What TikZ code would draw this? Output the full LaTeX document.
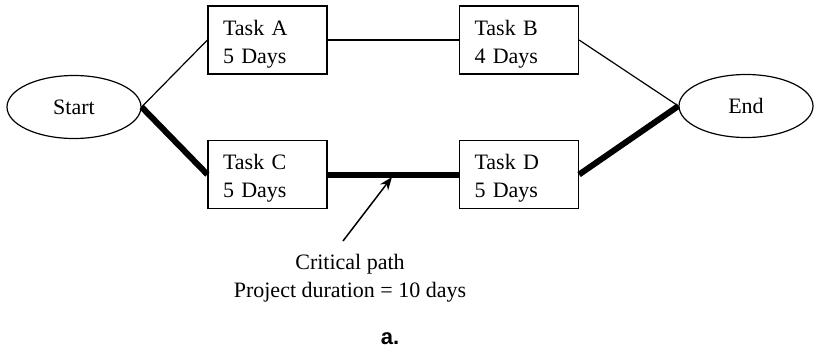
\documentclass[tikz,border=0pt]{standalone}
\usepackage{fontspec}
\setmainfont{Liberation Serif}
\newfontfamily\capfont{Liberation Sans}
\usetikzlibrary{shapes.geometric,arrows.meta}
\newcommand{\topstrut}{\rule{0pt}{23pt}}
\begin{document}
\begin{tikzpicture}[x=1pt,y=-1pt,
  every node/.style={font=\fontsize{22}{28}\selectfont},
  taskbox/.style={draw,line width=1.2pt,minimum width=119pt,minimum height=68pt,
    text width=89pt,align=left,inner sep=0pt},
  endpoint/.style={draw,ellipse,line width=1.2pt,minimum width=134pt,minimum height=63pt,inner sep=0pt},
  thin link/.style={line width=1.2pt},
  crit link/.style={line width=6pt},
]
\useasboundingbox (0,0) rectangle (818,351);
\node[endpoint] (start) at (74,107) {Start};
\node[endpoint] (end) at (746,106) {End};
\node[taskbox] (A) at (267.5,40) {\topstrut Task A\\5 Days};
\node[taskbox] (B) at (519,40) {\topstrut Task B\\4 Days};
\node[taskbox] (C) at (267.5,174.5) {\topstrut Task C\\5 Days};
\node[taskbox] (D) at (519,174.5) {\topstrut Task D\\5 Days};
\draw[thin link] (start.east) -- (A.west);
\draw[thin link] (A.east) -- (B.west);
\draw[thin link] (B.east) -- (end.west);
\draw[crit link] (start.east) -- (C.west);
\draw[crit link] (C.east) -- (D.west);
\draw[crit link] (D.east) -- (end.west);
\node[align=center,anchor=base] (crit) at (350,297) {Critical path\\Project duration = 10 days};
\coordinate (tail) at (343,241);
\coordinate (head) at (392,177);
\draw[line width=1.5pt,-{Stealth[length=13pt,width=10pt]}] (tail) -- (head);
\node[anchor=base,font=\capfont\bfseries\fontsize{22}{26}\selectfont] (cap) at (390,344) {a.};
\end{tikzpicture}
\end{document}
